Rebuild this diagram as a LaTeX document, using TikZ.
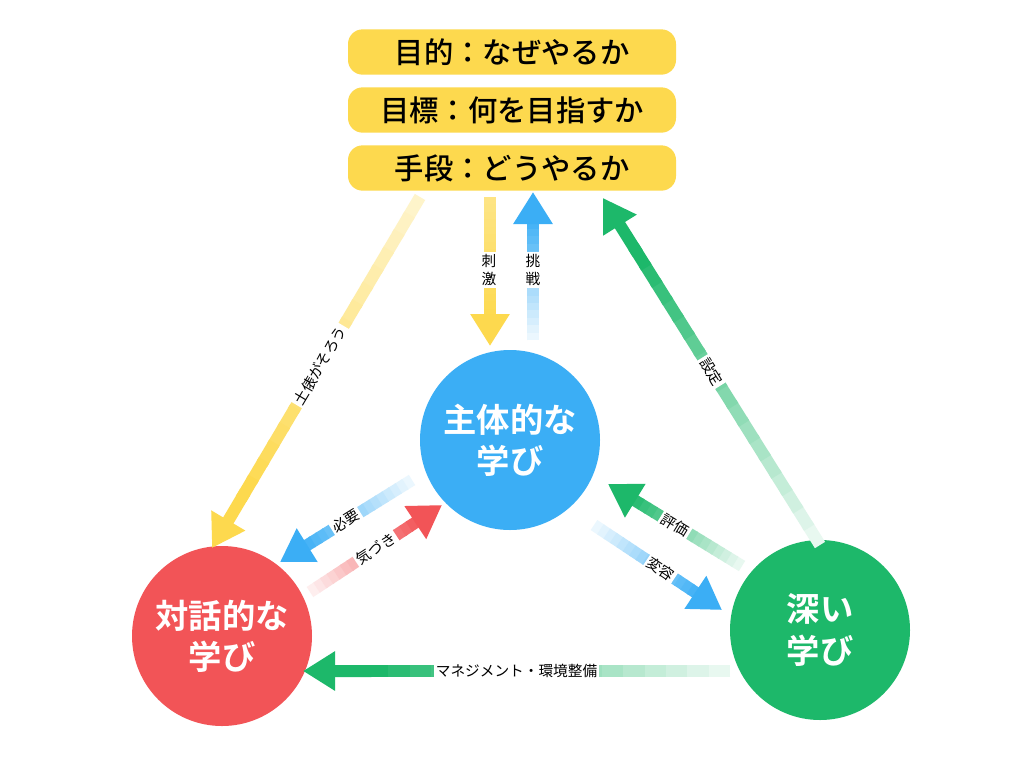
\documentclass[tikz,border=0pt]{standalone}
\usepackage{fontspec}
\newfontfamily\jpfont{Noto Sans CJK JP}
\newfontfamily\jpmed{Noto Sans CJK JP Medium}
\newfontfamily\jpbold{Noto Sans CJK JP Bold}
\usetikzlibrary{arrows.meta,calc}
\definecolor{pillyellow}{HTML}{FDD94E}
\definecolor{arryellow}{HTML}{FDD94E}
\definecolor{myblue}{HTML}{3BAEF5}
\definecolor{myred}{HTML}{F25457}
\definecolor{mygreen}{HTML}{1DB86A}
\tikzset{
  pill/.style={fill=pillyellow,rounded corners=11pt,minimum width=246pt,minimum height=34pt,font=\jpmed\fontsize{22}{22}\selectfont},
  bigcircle/.style={circle,minimum size=135pt,text=white,align=center,font=\jpbold\fontsize{25}{31}\selectfont},
  arrlabel/.style={fill=white,inner sep=1.5pt,font=\jpfont\fontsize{11}{12}\selectfont}
}
% faded thick arrow: colour, from, to, lightest percent
\newcommand\fadearrow[4]{%
  \foreach \i in {0,...,16}{%
    \pgfmathsetmacro\a{\i/20}\pgfmathsetmacro\b{(\i+1.2)/20}%
    \pgfmathtruncatemacro\pc{#4+(100-#4)*\i/16}%
    \draw[line width=9pt,#1!\pc!white] ($(#2)!\a!(#3)$) -- ($(#2)!\b!(#3)$);}
  \draw[line width=9pt,#1,-{Triangle[width=28pt,length=24pt]}] ($(#2)!0.84!(#3)$) -- (#3);}
\begin{document}
\begin{tikzpicture}[x=0.75pt,y=-0.75pt]
  \useasboundingbox[fill=white] (0,0) rectangle (1024,768);
  % ピル
  \node[pill] (goal) at (512,52) {目的：なぜやるか};
  \node[pill] (target) at (512,110) {目標：何を目指すか};
  \node[pill] (means) at (512,168) {手段：どうやるか};
  % 円
  \node[bigcircle,fill=myblue] (shutai) at (510,440) {主体的な\\学び};
  \node[bigcircle,fill=myred] (taiwa) at (222,636) {対話的な\\学び};
  \node[bigcircle,fill=mygreen] (fukai) at (820,630) {深い\\学び};
  % 端点
  \coordinate (y1s) at (420,197); \coordinate (y1e) at (212,548);
  \coordinate (y2s) at (490,197); \coordinate (y2e) at (490,346);
  \coordinate (b1s) at (533,340); \coordinate (b1e) at (533,192);
  \coordinate (g1s) at (820,545); \coordinate (g1e) at (603,198);
  \coordinate (b2s) at (412,480); \coordinate (b2e) at (280,562);
  \coordinate (r1s) at (310,592); \coordinate (r1e) at (442,505);
  \coordinate (g2s) at (742,566); \coordinate (g2e) at (608,484);
  \coordinate (b3s) at (594,525); \coordinate (b3e) at (722,610);
  \coordinate (g3s) at (730,671); \coordinate (g3e) at (303,671);
  % 矢印
  \fadearrow{arryellow}{y1s}{y1e}{30}
  \fadearrow{arryellow}{y2s}{y2e}{70}
  \fadearrow{myblue}{b1s}{b1e}{10}
  \fadearrow{mygreen}{g1s}{g1e}{10}
  \fadearrow{myblue}{b2s}{b2e}{10}
  \fadearrow{myred}{r1s}{r1e}{10}
  \fadearrow{mygreen}{g2s}{g2e}{10}
  \fadearrow{myblue}{b3s}{b3e}{10}
  \fadearrow{mygreen}{g3s}{g3e}{10}
  % ラベル
  \path (y1e) -- (y1s) node[pos=0.52,sloped,arrlabel] {土俵がそろう};
  \node[arrlabel,align=center,font=\jpfont\fontsize{11}{14}\selectfont] (stim) at (489,270) {刺\\激};
  \node[arrlabel,align=center,font=\jpfont\fontsize{11}{14}\selectfont] (chal) at (533,270) {挑\\戦};
  \path (g1s) -- (g1e) node[pos=0.5,sloped,arrlabel] {設定};
  \path (b2e) -- (b2s) node[pos=0.5,sloped,arrlabel] {必要};
  \path (r1s) -- (r1e) node[pos=0.5,sloped,arrlabel] {気づき};
  \path (g2e) -- (g2s) node[pos=0.5,sloped,arrlabel] {評価};
  \path (b3s) -- (b3e) node[pos=0.52,sloped,arrlabel] {変容};
  \path (g3e) -- (g3s) node[pos=0.5,arrlabel] {マネジメント・環境整備};
\end{tikzpicture}
\end{document}
